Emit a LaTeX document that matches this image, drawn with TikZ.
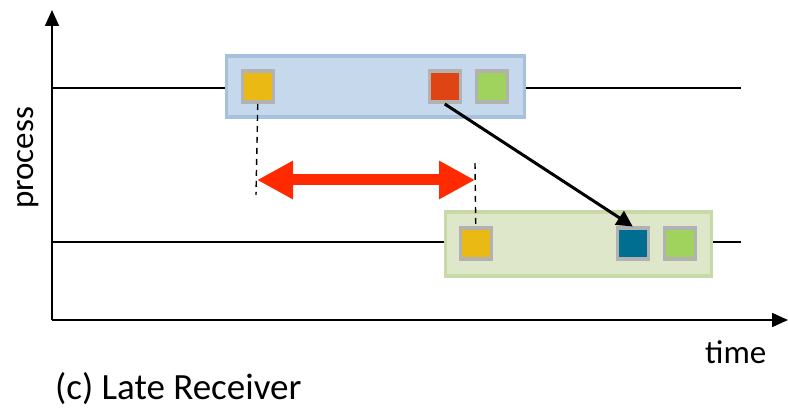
\documentclass[tikz,border=0pt]{standalone}
\usepackage{fontspec}
\setmainfont{Carlito}
\usetikzlibrary{arrows.meta}
\definecolor{axis}{HTML}{000000}
\definecolor{bluefill}{HTML}{C6D8EB}
\definecolor{blueedge}{HTML}{A6C0DE}
\definecolor{greenfill}{HTML}{DEE7C9}
\definecolor{greenedge}{HTML}{C6D9A6}
\definecolor{sqedge}{HTML}{B2B2B2}
\definecolor{cyellow}{HTML}{EBB914}
\definecolor{cred}{HTML}{DE4414}
\definecolor{cgreen}{HTML}{A0D35E}
\definecolor{cblue}{HTML}{006E91}
\definecolor{gaparrow}{HTML}{FF2A00}
\begin{document}
\begin{tikzpicture}[x=1pt,y=-1pt,
  phase/.style={line width=3.5pt,inner sep=0pt,anchor=north west},
  msg/.style={draw=sqedge,line width=3.5pt,minimum size=31pt,inner sep=0pt,anchor=north west},
  lbl/.style={font=\fontsize{33}{38}\selectfont,inner sep=0pt},
  caption/.style={font=\fontsize{37}{42}\selectfont,inner sep=0pt}]
\useasboundingbox (0,0) rectangle (789,411);
% axes
\coordinate (o) at (52,320);
\coordinate (ytop) at (52,10);
\coordinate (xend) at (788,320);
\draw[line width=1.6pt,-{Triangle[length=16pt,width=14pt]}] (o) -- (ytop);
\draw[line width=1.6pt,-{Triangle[length=16pt,width=14pt]}] (o) -- (xend);
% process timelines
\coordinate (p1a) at (52,88);  \coordinate (p1b) at (741,88);
\coordinate (p2a) at (52,242); \coordinate (p2b) at (741,242);
\draw[line width=1.3pt] (p1a) -- (p1b);
\draw[line width=1.3pt] (p2a) -- (p2b);
% phases
\node[phase,draw=blueedge,fill=bluefill,minimum width=298pt,minimum height=61pt] (sendbox) at (224.5,54.5) {};
\node[phase,draw=greenedge,fill=greenfill,minimum width=266pt,minimum height=64pt] (recvbox) at (443.5,210.5) {};
% messages
\node[msg,fill=cyellow] (s1) at (240.5,69.5) {};
\node[msg,fill=cred] (s2) at (427.5,69.5) {};
\node[msg,fill=cgreen] (s3) at (474.5,69.5) {};
\node[msg,fill=cyellow] (r1) at (458.5,226.5) {};
\node[msg,fill=cblue] (r2) at (615.5,226.5) {};
\node[msg,fill=cgreen] (r3) at (662.5,226.5) {};
% delay markers
\coordinate (d1) at (256,195);
\coordinate (d2) at (475,163);
\draw[line width=1.4pt,dash pattern=on 6pt off 5pt] (s1.south) -- (d1);
\draw[line width=1.4pt,dash pattern=on 6pt off 5pt] (d2) -- (r1.north);
\coordinate (g1) at (257,180);
\coordinate (g2) at (475,180);
\draw[gaparrow,line width=11pt,{Triangle[length=36pt,width=36pt]}-{Triangle[length=36pt,width=36pt]}] (g1) -- (g2);
% message transfer
\draw[line width=3pt,-{Triangle[length=16pt,width=16pt]}] (s2.south) -- (r2.north);
% labels
\node[lbl,rotate=90] (plabel) at (28,158) {process};
\node[lbl,anchor=base west] (tlabel) at (705,363) {time};
\node[caption,anchor=base west] (cap) at (55,399) {(c) Late Receiver};
\end{tikzpicture}
\end{document}
